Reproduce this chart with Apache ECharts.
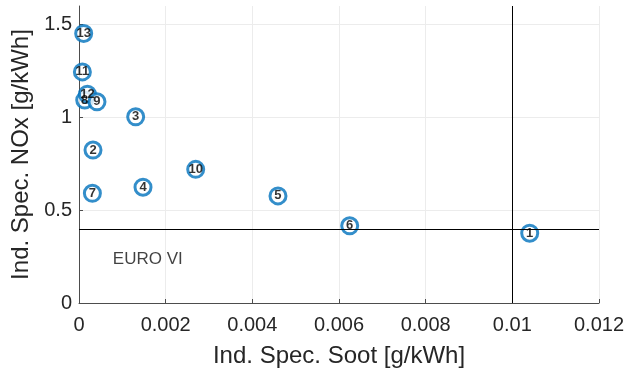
<!DOCTYPE html>
<html>
<head>
<meta charset="utf-8">
<script src="https://cdn.jsdelivr.net/npm/echarts@6/dist/echarts.min.js"></script>
<style>
  html, body { margin: 0; padding: 0; background: #fff; }
  #chart { width: 644px; height: 371px; }
</style>
</head>
<body>
<div id="chart"></div>
<script>
// Operating points: indicated specific soot vs NOx
const pointIds = [13, 11, 8, 12, 9, 3, 2, 10, 7, 4, 5, 6, 1];
const sootValues = [0.000108, 0.000078, 0.000132, 0.000194, 0.000415, 0.001308, 0.000323, 0.002693, 0.000309, 0.001477, 0.004592, 0.006247, 0.010401];
const noxValues = [1.452, 1.245, 1.093, 1.125, 1.084, 1.003, 0.824, 0.720, 0.591, 0.624, 0.577, 0.416, 0.376];

// Emission limits
const euroViNox = 0.4;
const euroViSoot = 0.01;
const limitLabel = 'EURO VI';
const limitLabelPos = [0.00078, 0.237];

const xTicks = { min: 0, max: 0.012, interval: 0.002 };
const yTicks = { min: 0, max: 1.6, interval: 0.5 };

const points = pointIds.map((id, i) => ({ value: [sootValues[i], noxValues[i]], name: String(id) }));

const font = 'Liberation Sans, Arial, sans-serif';

const chart = echarts.init(document.getElementById('chart'), null, { renderer: 'canvas' });
chart.setOption({
  animation: false,
  backgroundColor: '#ffffff',
  grid: { left: 79, right: 45, top: 6, bottom: 68, containLabel: false, outerBoundsMode: 'none' },
  xAxis: {
    type: 'value',
    min: xTicks.min, max: xTicks.max, interval: xTicks.interval,
    name: 'Ind. Spec. Soot [g/kWh]',
    nameLocation: 'middle', nameGap: 41,
    nameTextStyle: { fontFamily: font, fontSize: 24, color: '#262626' },
    axisLine: { show: true, onZero: false, lineStyle: { color: '#4d4d4d', width: 1 } },
    axisTick: { show: true, inside: true, length: 4, lineStyle: { color: '#4d4d4d' } },
    axisLabel: {
      fontFamily: font, fontSize: 20, color: '#262626', margin: 12,
      formatter: v => (v === 0 ? '0' : String(+v.toFixed(3)))
    },
    splitLine: { show: true, lineStyle: { color: '#ececec', width: 1 } }
  },
  yAxis: {
    type: 'value',
    min: yTicks.min, max: yTicks.max, interval: yTicks.interval,
    name: 'Ind. Spec. NOx [g/kWh]',
    nameLocation: 'middle', nameGap: 41,
    nameTextStyle: { fontFamily: font, fontSize: 24, color: '#262626' },
    axisLine: { show: true, onZero: false, lineStyle: { color: '#4d4d4d', width: 1 } },
    axisTick: { show: true, inside: true, length: 4, lineStyle: { color: '#4d4d4d' } },
    axisLabel: {
      fontFamily: font, fontSize: 20, color: '#262626', margin: 7,
      showMaxLabel: false,
      formatter: v => String(v)
    },
    splitLine: { show: true, showMaxLine: false, lineStyle: { color: '#ececec', width: 1 } }
  },
  series: [
    {
      type: 'scatter',
      silent: true,
      symbol: 'none',
      data: [],
      markLine: {
        silent: true,
        symbol: ['none', 'none'],
        label: { show: false },
        lineStyle: { color: '#000000', width: 1, type: 'solid' },
        data: [
          { yAxis: euroViNox },
          [{ coord: [euroViSoot, yTicks.min] }, { coord: [euroViSoot, yTicks.max] }]
        ]
      }
    },
    {
      type: 'scatter',
      data: points,
      symbol: 'circle',
      symbolSize: 16,
      itemStyle: { color: '#ffffff', borderColor: '#0072BD', borderWidth: 3 },
      label: {
        show: true,
        position: 'inside',
        formatter: p => p.name,
        fontFamily: font,
        fontWeight: 'bold',
        fontSize: 13,
        color: '#000000'
      }
    },
    {
      type: 'scatter',
      silent: true,
      symbolSize: 0,
      data: [{ value: limitLabelPos }],
      label: {
        show: true,
        position: 'right',
        distance: 0,
        formatter: limitLabel,
        fontFamily: font,
        fontSize: 17,
        color: '#111111'
      }
    }
  ]
});
</script>
</body>
</html>
